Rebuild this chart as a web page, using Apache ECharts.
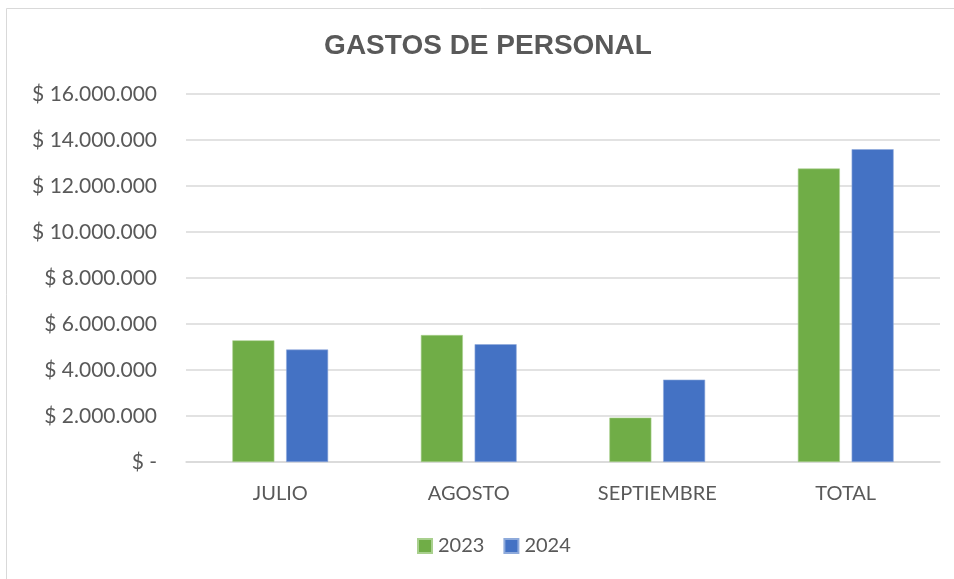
<!DOCTYPE html>
<html>
<head>
<meta charset="utf-8">
<script src="https://cdn.jsdelivr.net/npm/echarts@6/dist/echarts.min.js"></script>
<style>html,body{margin:0;padding:0;background:#fff}#c{width:954px;height:579px}</style>
</head>
<body>
<div id="c"></div>
<script>
const categories = ['JULIO', 'AGOSTO', 'SEPTIEMBRE', 'TOTAL'];
const seriesNames = ['2023', '2024'];
const values2023 = [5290000, 5520000, 1930000, 12760000];
const values2024 = [4890000, 5120000, 3580000, 13600000];
const yTicks = { min: 0, max: 16000000, interval: 2000000 };

function fmt(v) {
  if (v === 0) return '$ -';
  return '$ ' + String(Math.round(v)).replace(/\B(?=(\d{3})+(?!\d))/g, '.');
}

const chart = echarts.init(document.getElementById('c'));
const labelFont = 'Lato, "Open Sans", "Liberation Sans", sans-serif';
chart.setOption({
  animation: false,
  backgroundColor: '#fff',
  graphic: [{
    type: 'rect', shape: { x: 6.5, y: 8.5, width: 960, height: 600 },
    style: { fill: 'none', stroke: '#d9d9d9', lineWidth: 1 }, silent: true, z: -10
  }],
  title: {
    text: 'GASTOS DE PERSONAL', left: 483, top: 27, textAlign: 'center',
    textStyle: { fontFamily: '"Liberation Sans", Arial, sans-serif', fontWeight: 'bold', fontSize: 28, color: '#595959' }
  },
  legend: {
    data: seriesNames, bottom: 18, left: 412, itemWidth: 14, itemHeight: 14, itemGap: 19,
    icon: 'rect',
    textStyle: { fontFamily: labelFont, fontSize: 20, color: '#595959', padding: [0, 0, 0, 1] }
  },
  grid: { left: 186, right: 14, top: 94, bottom: 117, containLabel: false },
  xAxis: {
    type: 'category', data: categories,
    axisLine: { lineStyle: { color: '#d9d9d9', width: 1.5 } },
    axisTick: { show: false },
    axisLabel: { fontFamily: labelFont, fontSize: 20, color: '#595959', margin: 22 }
  },
  yAxis: {
    type: 'value', min: yTicks.min, max: yTicks.max, interval: yTicks.interval,
    axisLine: { show: false }, axisTick: { show: false },
    splitLine: { lineStyle: { color: '#d9d9d9', width: 1.5 } },
    axisLabel: { formatter: fmt, fontFamily: labelFont, fontSize: 21, color: '#595959', margin: 29 }
  },
  series: [
    { name: seriesNames[0], type: 'bar', data: values2023, barWidth: 42, barGap: '28%',
      itemStyle: { color: '#70AD47', borderColor: '#a9d08e', borderWidth: 0.6 } },
    { name: seriesNames[1], type: 'bar', data: values2024, barWidth: 42,
      itemStyle: { color: '#4472C4', borderColor: '#8eaadb', borderWidth: 0.6 } }
  ]
});
</script>
</body>
</html>
